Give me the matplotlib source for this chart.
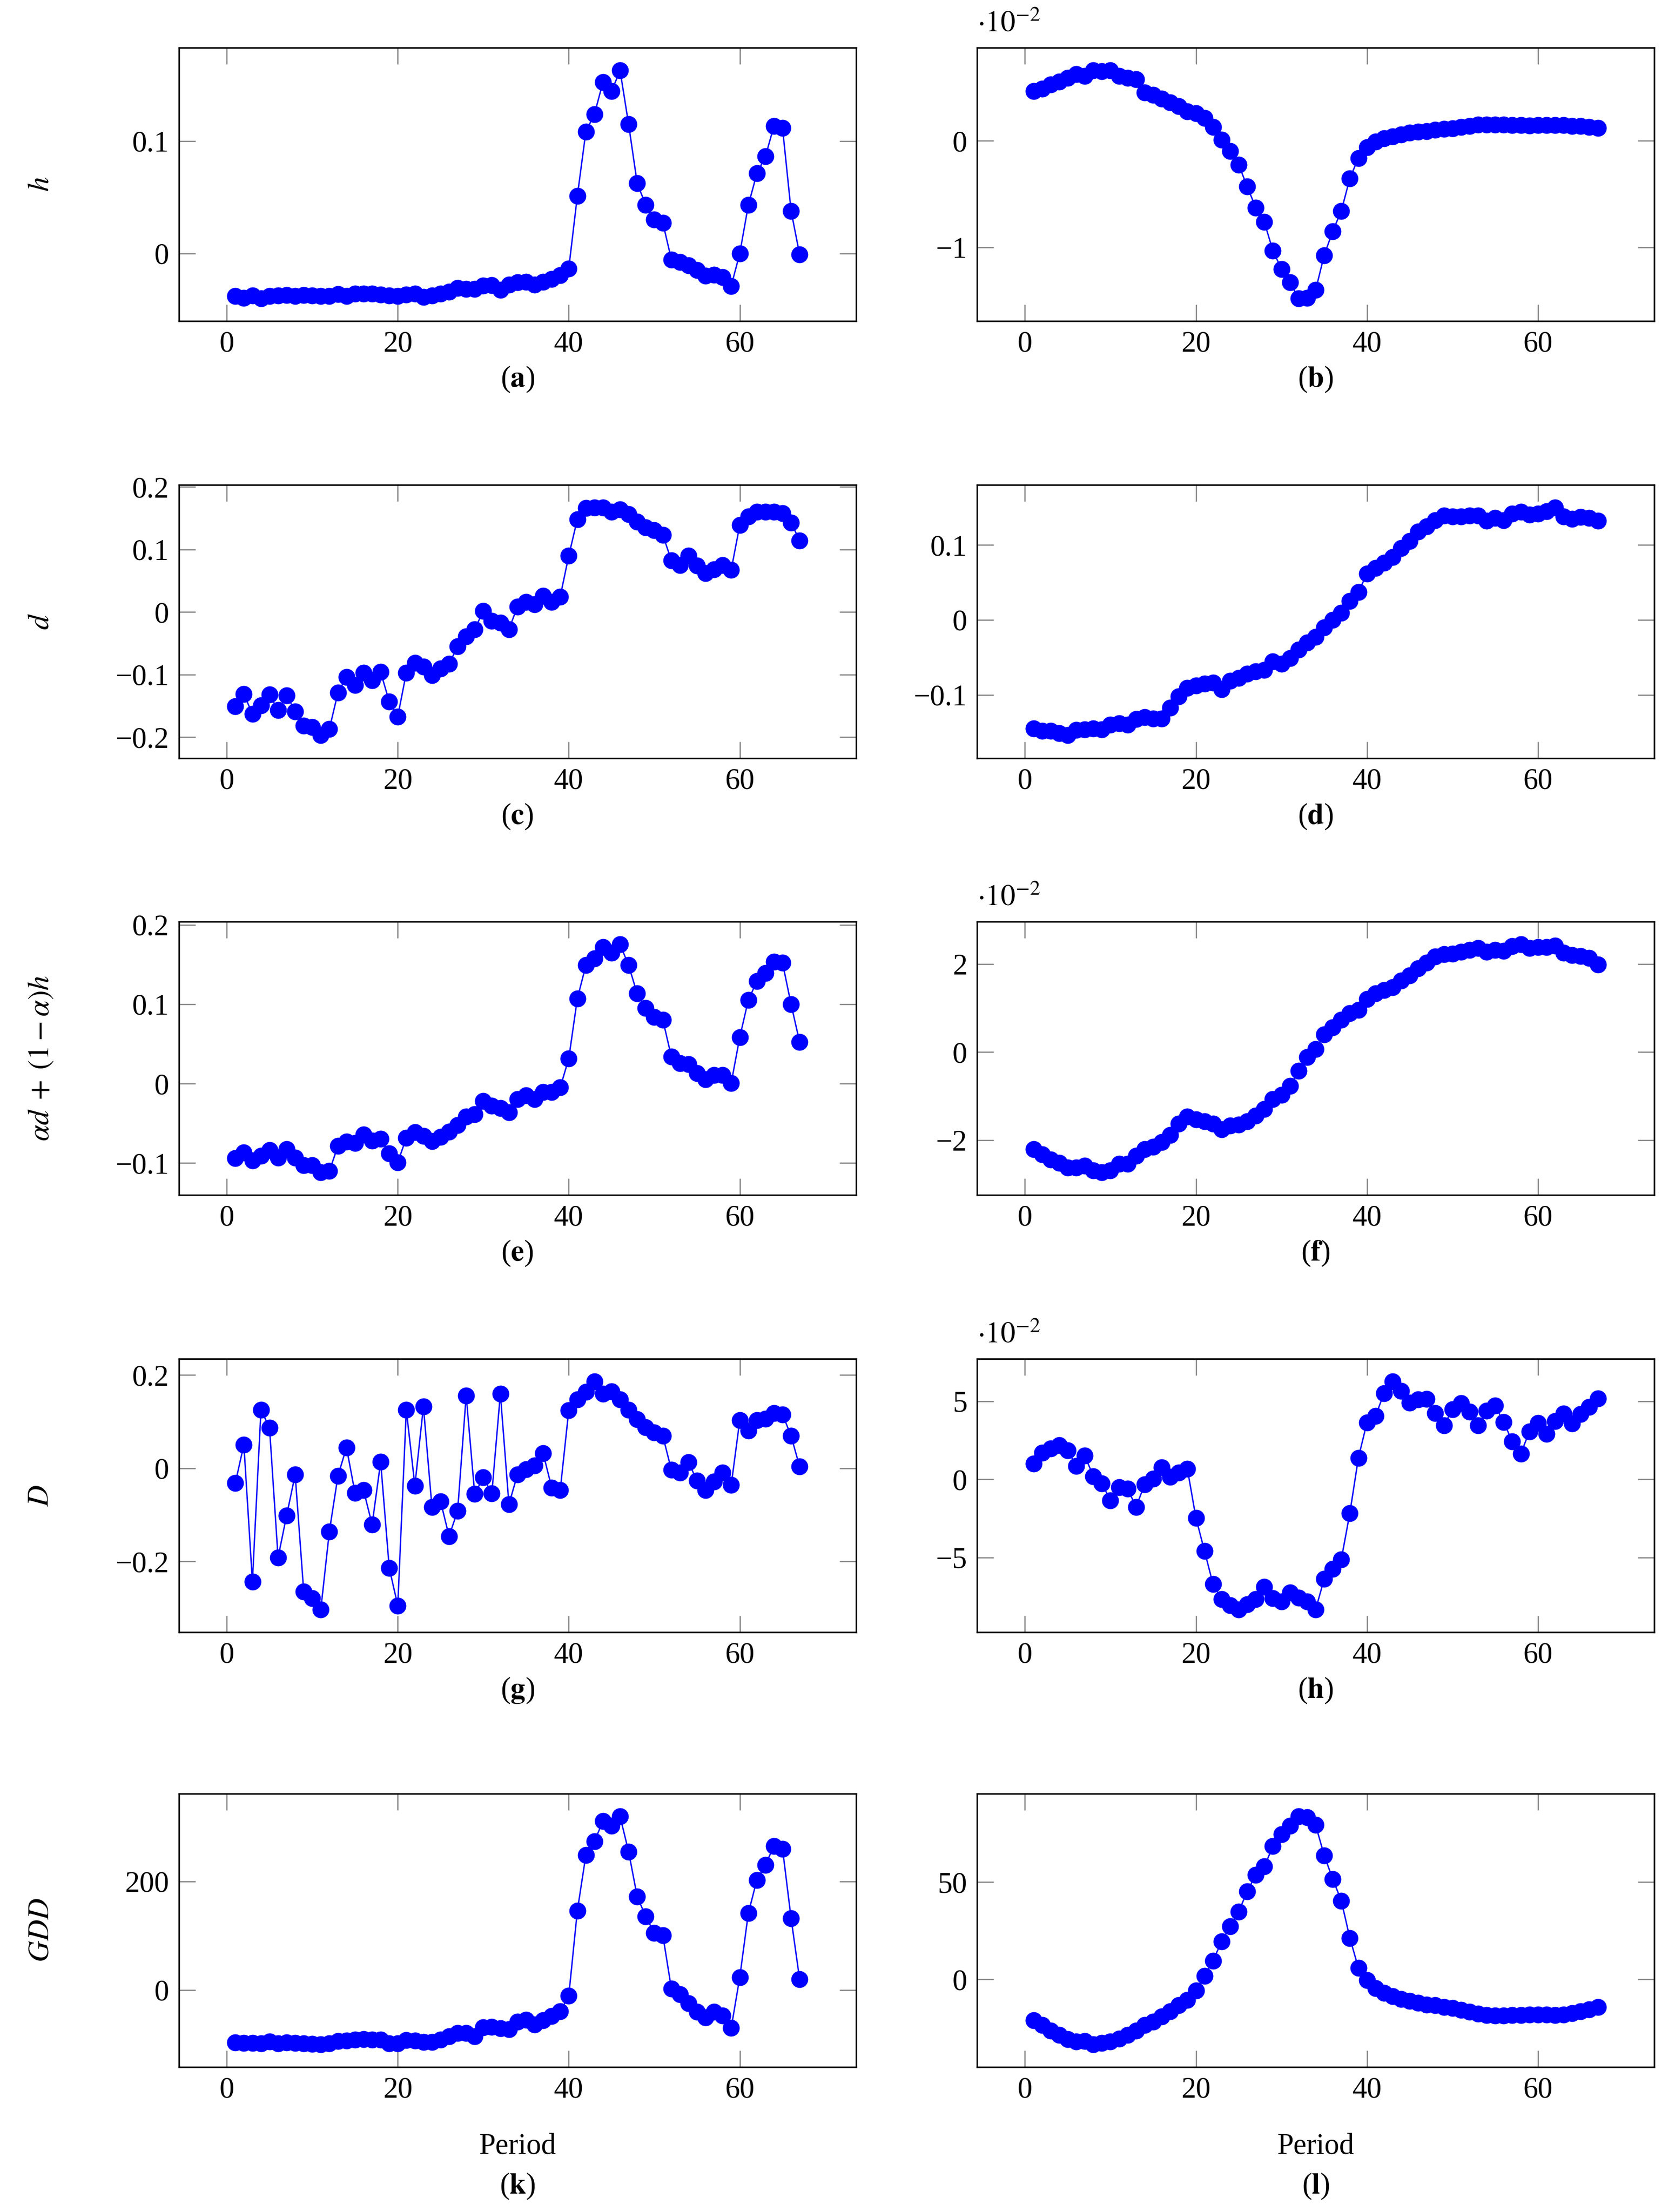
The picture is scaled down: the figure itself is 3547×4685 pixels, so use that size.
import numpy as np
import matplotlib
matplotlib.use("Agg")
import matplotlib.pyplot as plt
from matplotlib.ticker import FixedLocator, FuncFormatter

plt.rcParams['font.family'] = ['Liberation Serif', 'DejaVu Serif']
plt.rcParams['mathtext.fontset'] = 'stix'
plt.rcParams['font.size'] = 15

# x axis: period index
period = np.arange(1, 68)

# values (b, f, h are in units of 1e-2)
h_vals = [-0.038, -0.0395, -0.0376, -0.040, -0.038, -0.0376, -0.037, -0.038, -0.037, -0.0376,
          -0.0378, -0.038, -0.0365, -0.038, -0.036, -0.0357, -0.036, -0.0368, -0.0376, -0.0378,
          -0.0368, -0.036, -0.039, -0.0376, -0.036, -0.0343, -0.031, -0.0315, -0.0318, -0.0286,
          -0.0283, -0.0327, -0.0278, -0.026, -0.0253, -0.0278, -0.0253, -0.023, -0.0196, -0.0134,
          0.051, 0.1085, 0.124, 0.1526, 0.1444, 0.163, 0.115, 0.0626, 0.0431, 0.030,
          0.0273, -0.0054, -0.0075, -0.0106, -0.0147, -0.020, -0.019, -0.0212, -0.029, 0.0,
          0.043, 0.0712, 0.0864, 0.1136, 0.1118, 0.0379, -0.001]

b_vals = [0.468, 0.49, 0.53, 0.557, 0.59, 0.626, 0.609, 0.66, 0.652, 0.66,
          0.609, 0.59, 0.575, 0.455, 0.429, 0.395, 0.36, 0.326, 0.274, 0.257,
          0.214, 0.129, 0.009, -0.094, -0.223, -0.429, -0.626, -0.76, -1.029, -1.20,
          -1.324, -1.475, -1.47, -1.398, -1.072, -0.846, -0.657, -0.352, -0.16, -0.06,
          -0.009, 0.026, 0.043, 0.06, 0.077, 0.086, 0.091, 0.103, 0.111, 0.115,
          0.129, 0.137, 0.154, 0.154, 0.154, 0.154, 0.149, 0.146, 0.143, 0.146,
          0.146, 0.149, 0.146, 0.137, 0.137, 0.129, 0.12]

d_vals = [-0.1506, -0.131, -0.163, -0.149, -0.132, -0.157, -0.133, -0.159, -0.182, -0.184,
          -0.197, -0.187, -0.129, -0.104, -0.117, -0.097, -0.109, -0.096, -0.143, -0.167,
          -0.097, -0.081, -0.087, -0.101, -0.090, -0.083, -0.055, -0.039, -0.028, 0.002,
          -0.014, -0.017, -0.0275, 0.0085, 0.016, 0.012, 0.026, 0.016, 0.0246, 0.090,
          0.148, 0.166, 0.167, 0.167, 0.160, 0.164, 0.156, 0.144, 0.135, 0.131,
          0.123, 0.0825, 0.075, 0.090, 0.074, 0.062, 0.068, 0.075, 0.0675, 0.139,
          0.1526, 0.160, 0.160, 0.160, 0.158, 0.143, 0.114]

dd_vals = [-0.145, -0.148, -0.148, -0.151, -0.154, -0.147, -0.146, -0.145, -0.146, -0.140,
           -0.138, -0.140, -0.1325, -0.130, -0.132, -0.132, -0.1175, -0.102, -0.091, -0.0876,
           -0.085, -0.084, -0.0925, -0.0816, -0.0774, -0.072, -0.069, -0.067, -0.0556, -0.0585,
           -0.051, -0.040, -0.0306, -0.0228, -0.010, -0.0002, 0.0095, 0.025, 0.037, 0.0617,
           0.069, 0.076, 0.084, 0.0956, 0.105, 0.1175, 0.125, 0.133, 0.139, 0.138,
           0.138, 0.139, 0.139, 0.1325, 0.136, 0.133, 0.142, 0.144, 0.1405, 0.142,
           0.145, 0.150, 0.138, 0.1345, 0.137, 0.136, 0.132]

e_vals = [-0.094, -0.0866, -0.097, -0.0908, -0.0839, -0.0935, -0.0825, -0.0935, -0.1028, -0.1028,
          -0.1115, -0.110, -0.0786, -0.0728, -0.0747, -0.0643, -0.0717, -0.0694, -0.088, -0.0993,
          -0.068, -0.061, -0.066, -0.0724, -0.067, -0.0608, -0.0525, -0.0417, -0.0387, -0.0217,
          -0.0279, -0.031, -0.0364, -0.0194, -0.0147, -0.0194, -0.0106, -0.0106, -0.0048, 0.0316,
          0.1069, 0.149, 0.1576, 0.172, 0.165, 0.1753, 0.149, 0.1134, 0.0954, 0.0839,
          0.0804, 0.0339, 0.0256, 0.0247, 0.0129, 0.0055, 0.0106, 0.0106, 0.0009, 0.0585,
          0.1053, 0.1288, 0.139, 0.1537, 0.152, 0.100, 0.0523]

f_vals = [-2.211, -2.323, -2.439, -2.52, -2.625, -2.625, -2.58, -2.687, -2.73, -2.687,
          -2.54, -2.54, -2.356, -2.211, -2.149, -2.046, -1.88, -1.63, -1.466, -1.528,
          -1.57, -1.63, -1.756, -1.673, -1.652, -1.57, -1.445, -1.30, -1.072, -0.969,
          -0.774, -0.43, -0.12, 0.066, 0.398, 0.563, 0.729, 0.882, 0.957, 1.205,
          1.329, 1.412, 1.474, 1.619, 1.743, 1.90, 2.033, 2.166, 2.228, 2.24,
          2.28, 2.323, 2.364, 2.28, 2.323, 2.30, 2.406, 2.447, 2.364, 2.385,
          2.385, 2.414, 2.26, 2.199, 2.178, 2.137, 1.992]

D_vals = [-0.0318, 0.0507, -0.243, 0.1253, 0.0872, -0.1917, -0.1014, -0.0138, -0.2644, -0.2794,
          -0.303, -0.1356, -0.0169, 0.0448, -0.053, -0.0472, -0.121, 0.0138, -0.2137, -0.2947,
          0.1253, -0.0373, 0.1324, -0.0837, -0.0707, -0.1458, -0.0916, 0.156, -0.0554, -0.0196,
          -0.0542, 0.160, -0.077, -0.0138, -0.002, 0.0055, 0.0322, -0.0413, -0.0472, 0.1246,
          0.148, 0.164, 0.186, 0.160, 0.1654, 0.148, 0.1253, 0.105, 0.0884, 0.0766,
          0.0695, -0.0035, -0.009, 0.0134, -0.027, -0.0464, -0.0287, -0.0098, -0.0358, 0.103,
          0.0805, 0.103, 0.1057, 0.1187, 0.1155, 0.0695, 0.0035]

hh_vals = [0.994, 1.696, 1.953, 2.187, 1.86, 0.866, 1.509, 0.199, -0.269, -1.345,
           -0.503, -0.596, -1.766, -0.327, 0.023, 0.76, 0.164, 0.433, 0.667, -2.468,
           -4.573, -6.70, -7.661, -8.047, -8.316, -7.99, -7.67, -6.877, -7.60, -7.81,
           -7.228, -7.579, -7.81, -8.316, -6.374, -5.743, -5.123, -2.164, 1.368, 3.626,
           4.058, 5.485, 6.246, 5.637, 4.90, 5.111, 5.134, 4.234, 3.439, 4.468,
           4.854, 4.316, 3.439, 4.374, 4.702, 3.649, 2.421, 1.637, 3.064, 3.59,
           2.889, 3.708, 4.199, 3.556, 4.175, 4.62, 5.17]

gdd_vals = [-96.8, -97.5, -98, -98.5, -95, -98.5, -96.5, -98, -98.5, -99,
            -100, -98.5, -94, -93.4, -91.8, -90.8, -91.4, -91.8, -98.5, -98.5,
            -92.4, -93, -95.8, -95.8, -91.8, -85.7, -79, -79, -85.7, -68.9,
            -68.2, -70.6, -72.3, -58.2, -54.8, -63.9, -56.1, -47.7, -39.7, -10.8,
            145.5, 248, 273.3, 310.9, 302.5, 319.3, 254.5, 172.1, 135.1, 104.9,
            100.8, 2.4, -7.7, -24.5, -40.3, -50.4, -40.3, -47, -69.9, 23.5,
            141.2, 202.4, 230.3, 264.9, 259.8, 132.1, 19.5]

l_vals = [-20.96, -23.6, -26.4, -28.5, -30.8, -32, -31.8, -33.4, -32.7, -32,
          -30.5, -28.5, -26.4, -23.6, -21.9, -19.1, -16.5, -13.4, -10.6, -5.7,
          1.8, 9.6, 19.5, 27.3, 34.9, 45.2, 53.8, 58, 68.5, 74.7,
          78.9, 83.8, 83.4, 79.4, 63.8, 51.6, 40.5, 21.3, 5.9, -0.5,
          -4.5, -6.9, -8.6, -10.2, -11.1, -12, -13, -13.4, -14.2, -14.8,
          -15.8, -16.7, -17.7, -18.3, -18.6, -18.6, -18.3, -18.3, -18.1, -18.1,
          -18.1, -18.3, -18.1, -17.4, -16.4, -15.5, -14.2]

panels = [
    # (values, y ticks, y label, letter, scaled by 1e-2)
    (h_vals, [0, 0.1], r'$h$', 'a', False),
    (b_vals, [-1, 0], None, 'b', True),
    (d_vals, [-0.2, -0.1, 0, 0.1, 0.2], r'$d$', 'c', False),
    (dd_vals, [-0.1, 0, 0.1], None, 'd', False),
    (e_vals, [-0.1, 0, 0.1, 0.2], r'$\alpha d\;+\;(1-\alpha)h$', 'e', False),
    (f_vals, [-2, 0, 2], None, 'f', True),
    (D_vals, [-0.2, 0, 0.2], r'$D$', 'g', False),
    (hh_vals, [-5, 0, 5], None, 'h', True),
    (gdd_vals, [0, 200], r'$GDD$', 'k', False),
    (l_vals, [0, 50], None, 'l', False),
]

x_ticks = [0, 20, 40, 60]

W, H = 3547, 4685
fig = plt.figure(figsize=(W / 300, H / 300), dpi=300)

col_x = [378.8 / W, 2069 / W]
ax_w = 1434 / W
ax_h = 579 / H
row_bottom = [680, 1605.6, 2531, 3457, 4378]


def fmt(v, pos):
    s = f"{v:g}"
    return s.replace('-', '\u2212')


for i, (vals, yt, ylab, letter, scaled) in enumerate(panels):
    r, c = divmod(i, 2)
    ax = fig.add_axes([col_x[c], 1 - row_bottom[r] / H, ax_w, ax_h])
    ax.plot(period, vals, color='#0000ff', lw=0.7, marker='o', ms=8.6, mew=0)
    ax.margins(x=0.1, y=0.1)
    ax.xaxis.set_major_locator(FixedLocator(x_ticks))
    ax.yaxis.set_major_locator(FixedLocator(yt))
    ax.xaxis.set_major_formatter(FuncFormatter(fmt))
    ax.yaxis.set_major_formatter(FuncFormatter(fmt))
    ax.tick_params(direction='in', length=8.4, width=0.6, color='#808080',
                   top=True, right=True, labelsize=15, pad=5)
    for sp in ax.spines.values():
        sp.set_linewidth(0.8)
    if ylab:
        ax.set_ylabel(ylab, fontsize=15)
        ax.yaxis.set_label_coords(-0.183, 0.5)
    if scaled:
        ax.annotate(r'$\cdot 10^{-2}$', xy=(0, 1), xycoords='axes fraction',
                    xytext=(0, 5), textcoords='offset points',
                    ha='left', va='bottom', fontsize=15)
    label = '(' + r'$\mathbf{' + letter + '}$' + ')'
    if r == 4:
        ax.text(0.5, -0.292, 'Period', transform=ax.transAxes,
                ha='center', va='center', fontsize=15)
        ax.text(0.5, -0.437, label, transform=ax.transAxes,
                ha='center', va='center', fontsize=15)
    else:
        ax.text(0.5, -0.214, label, transform=ax.transAxes,
                ha='center', va='center', fontsize=15)

fig.savefig('out.png', dpi=300)
